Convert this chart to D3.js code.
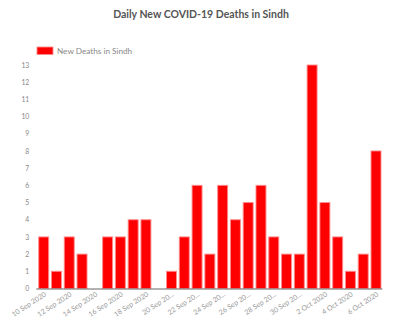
<!DOCTYPE html>
<html><head><meta charset="utf-8">
<script src="https://cdn.jsdelivr.net/npm/d3@7"></script>
<style>body{margin:0;background:#fff;}svg{display:block;font-family:Lato,"Noto Sans",sans-serif;}</style>
</head><body><svg id="c" width="400" height="325"></svg>
<script>
const categories = ["10 Sep 2020","11 Sep 2020","12 Sep 2020","13 Sep 2020","14 Sep 2020","15 Sep 2020","16 Sep 2020","17 Sep 2020","18 Sep 2020","19 Sep 2020","20 Sep 2020","21 Sep 2020","22 Sep 2020","23 Sep 2020","24 Sep 2020","25 Sep 2020","26 Sep 2020","27 Sep 2020","28 Sep 2020","29 Sep 2020","30 Sep 2020","1 Oct 2020","2 Oct 2020","3 Oct 2020","4 Oct 2020","5 Oct 2020","6 Oct 2020"];
const deaths = [3,1,3,2,0,3,3,4,4,0,1,3,6,2,6,4,5,6,3,2,2,13,5,3,1,2,8];
const tickLabels = {"10 Sep 2020":"10 Sep 2020","12 Sep 2020":"12 Sep 2020","14 Sep 2020":"14 Sep 2020","16 Sep 2020":"16 Sep 2020","18 Sep 2020":"18 Sep 2020","20 Sep 2020":"20 Sep 20...","22 Sep 2020":"22 Sep 20...","24 Sep 2020":"24 Sep 20...","26 Sep 2020":"26 Sep 20...","28 Sep 2020":"28 Sep 20...","30 Sep 2020":"30 Sep 20...","2 Oct 2020":"2 Oct 2020","4 Oct 2020":"4 Oct 2020","6 Oct 2020":"6 Oct 2020"};
const yTicks = [0,1,2,3,4,5,6,7,8,9,10,11,12,13];
const seriesName = "New Deaths in Sindh";
const title = "Daily New COVID-19 Deaths in Sindh";

(function () {
const svg = d3.select("#c");
const pl = 37.3, pr = 382.4, pt = 65, pb = 288.5;
const x = d3.scaleBand().domain(categories).range([pl, pr]).paddingInner(0.22).paddingOuter(0.11);
const y = d3.scaleLinear().domain([0, 13]).range([pb, pt]);

svg.append("text").attr("x", 201).attr("y", 18).attr("text-anchor", "middle")
  .attr("font-size", 10.5).attr("font-weight", "bold").attr("fill", "#555").text(title);

svg.append("rect").attr("x", 37).attr("y", 47).attr("width", 16).attr("height", 7.5)
  .attr("fill", "#ff0000").attr("stroke", "rgba(255,140,140,0.9)").attr("stroke-width", 1);
svg.append("text").attr("x", 57).attr("y", 54).attr("font-size", 8.2).attr("fill", "#888").text(seriesName);

const ya = svg.append("g").attr("transform", `translate(${pl},0)`)
  .call(d3.axisLeft(y).tickValues(yTicks).tickSize(0).tickPadding(8).tickFormat(d3.format("d")));
ya.select(".domain").remove();
ya.selectAll("text").attr("font-size", 6.8).attr("fill", "#888").attr("font-family", "Lato, 'Noto Sans', sans-serif");

svg.append("g").selectAll("rect").data(categories).join("rect")
  .attr("x", d => x(d)).attr("width", x.bandwidth())
  .attr("y", (d, i) => y(deaths[i])).attr("height", (d, i) => pb - y(deaths[i]))
  .attr("fill", "#ff0000").attr("stroke", "rgba(255,140,140,0.9)").attr("stroke-width", 1);

const xa = svg.append("g").attr("transform", `translate(0,${pb})`)
  .call(d3.axisBottom(x).tickValues(categories.filter(c => tickLabels[c])).tickSize(0).tickSizeOuter(0)
    .tickFormat(d => tickLabels[d]));
xa.select(".domain").attr("stroke", "#666").attr("d", `M${pl - 1},0.5H${pr}`);
xa.selectAll("text").attr("font-size", 7).attr("fill", "#999").attr("font-family", "Lato, 'Noto Sans', sans-serif")
  .attr("text-anchor", "end").attr("dy", null).attr("y", 0)
  .attr("transform", "translate(3,7) rotate(-33)");
})();
</script></body></html>
